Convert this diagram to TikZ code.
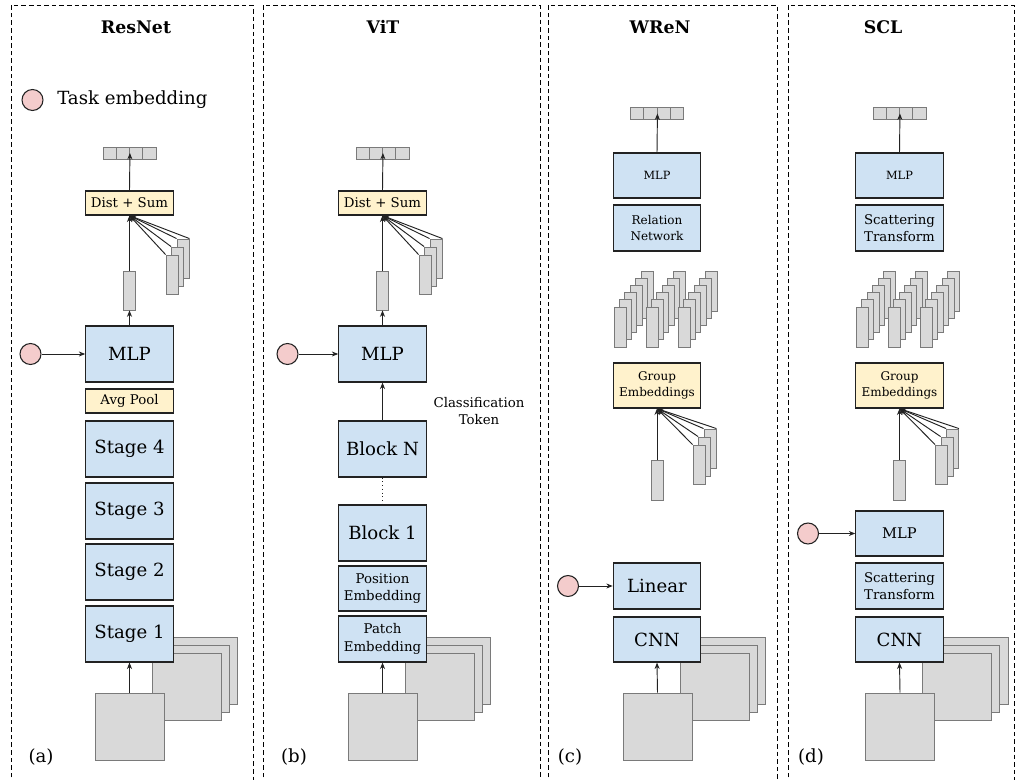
\documentclass[tikz,border=0pt]{standalone}
\usepackage{fontspec}
\setmainfont{DejaVu Serif}
\usetikzlibrary{arrows.meta}
\definecolor{blueF}{HTML}{CFE2F3}
\definecolor{yelF}{HTML}{FFF2CC}
\definecolor{grayF}{HTML}{D9D9D9}
\definecolor{grayD}{HTML}{7A7A7A}
\definecolor{pinkF}{HTML}{F4CCCC}
\definecolor{lineC}{HTML}{222222}
\newcommand{\outvec}[3]{%
  \node[cell] (#1a) at (#2-19.875,#3) {};
  \node[cell] (#1b) at (#2-6.625,#3) {};
  \node[cell] (#1c) at (#2+6.625,#3) {};
  \node[cell] (#1d) at (#2+19.875,#3) {};}
\newcommand{\stackthree}[3]{%
  \node[vecs] (#1c) at (#2+11,#3-16) {};
  \node[vecs] (#1b) at (#2+5.5,#3-8) {};
  \node[vecs] (#1a) at (#2,#3) {};}
\newcommand{\bigstack}[3]{%
  \foreach \k in {5,4,3,2,1,0}{\foreach \g in {0,1,2}{%
    \node[vecs, minimum height=30pt] (#1-\g-\k) at ({#2+32*\g+5.4*\k},{#3-7.2*\k}) {};}}}
\newcommand{\inputs}[3]{%
  \node[img] (#1c) at (#2+73.5,#3-55.5) {};
  \node[img] (#1b) at (#2+65,#3-47.5) {};
  \node[img] (#1a) at (#2+57,#3-40) {};
  \node[img] (#1f) at (#2,#3) {};}
\begin{document}
\begin{tikzpicture}[x=0.75pt,y=-0.75pt,
  box/.style={draw=lineC, line width=0.9pt, inner sep=0pt, minimum width=65.5pt, align=center},
  bluebox/.style={box, fill=blueF},
  yelbox/.style={box, fill=yelF},
  vecs/.style={draw=grayD, fill=grayF, line width=0.65pt, minimum width=9pt, minimum height=29.25pt, inner sep=0pt},
  img/.style={draw=grayD, fill=grayF, line width=0.75pt, minimum width=51.75pt, minimum height=50.25pt, inner sep=0pt},
  cell/.style={draw=grayD, fill=grayF, line width=0.65pt, minimum width=9.94pt, minimum height=9pt, inner sep=0pt},
  task/.style={circle, draw=lineC, fill=pinkF, line width=0.8pt, minimum size=15.75pt, inner sep=0pt},
  arr/.style={-{Stealth[length=4.8pt,width=3.8pt]}, line width=0.7pt, draw=lineC},
  panel/.style={line width=0.7pt, dash pattern=on 3.5pt off 2.2pt},
  title/.style={font=\bfseries\fontsize{13}{15}\selectfont},
  big/.style={font=\fontsize{13.6}{16}\selectfont},
  mlpm/.style={font=\fontsize{11}{13}\selectfont},
  mid/.style={font=\fontsize{10}{13}\selectfont},
  small/.style={font=\fontsize{9}{11.5}\selectfont},
  tiny/.style={font=\fontsize{8.5}{11}\selectfont},
  lab/.style={font=\fontsize{13.6}{16}\selectfont}]
\useasboundingbox (0,0) rectangle (1020,780);
\fill[white] (0,0) rectangle (1020,780);
% panels
\draw[panel] (11,785) -- (11,5) -- (253,5) -- (253,785);
\draw[panel] (263,785) -- (263,5) -- (540,5) -- (540,785);
\draw[panel] (548,785) -- (548,5) -- (777,5) -- (777,785);
\draw[panel] (788,785) -- (788,5) -- (1014,5) -- (1014,785);

% ---------------- Panel (a) ResNet
\node[title] (t1) at (136,27) {ResNet};
\node[task] (leg) at (32.5,100) {};
\node[big, anchor=west, inner sep=0pt] (legt) at (57,100) {Task embedding};
\outvec{o1}{129.5}{153}
\node[yelbox, mid, minimum height=18pt] (ds1) at (129.5,203) {Dist + Sum};
\node[vecs] (sv1) at (129.5,290.5) {};
\stackthree{p1}{172}{274.5}
\node[bluebox, big, minimum height=42pt] (mlp1) at (129.5,354) {MLP};
\node[task] (c1) at (30.5,354) {};
\node[yelbox, mid, minimum height=18pt] (ap1) at (129.5,401) {Avg Pool};
\node[bluebox, big, minimum height=42pt] (st4) at (129.5,449) {Stage 4};
\node[bluebox, big, minimum height=42pt] (st3) at (129.5,511) {Stage 3};
\node[bluebox, big, minimum height=42pt] (st2) at (129.5,572) {Stage 2};
\inputs{i1}{129.5}{726.5}
\node[bluebox, big, minimum height=42pt] (st1) at (129.5,634) {Stage 1};
\draw[arr] (i1f.north) -- (st1.south);
\draw[arr] (c1.east) -- (mlp1.west);
\draw[arr] (mlp1.north) -- (sv1.south);
\draw[arr] (sv1.north) -- (ds1.south);
\draw[arr] (p1a.north west) -- (ds1.south);
\draw[arr] (p1b.north west) -- (ds1.south);
\draw[arr] (p1c.north west) -- (ds1.south);
\draw[arr] (p1c.north east) -- (ds1.south);
\draw[arr] (ds1.north) -- (o1b.east);
\node[lab] (la) at (41,757) {(a)};

% ---------------- Panel (b) ViT
\node[title] (t2) at (383,27) {ViT};
\outvec{o2}{382.5}{153}
\node[yelbox, mid, minimum height=18pt] (ds2) at (382.5,203) {Dist + Sum};
\node[vecs] (sv2) at (382.5,290.5) {};
\stackthree{p2}{425}{274.5}
\node[bluebox, big, minimum height=42pt] (mlp2) at (382.5,354) {MLP};
\node[task] (c2) at (287.5,354) {};
\node[mid, align=center] (ct) at (479,411) {Classification\\Token};
\node[bluebox, big, minimum height=42pt] (bn) at (382.5,449) {Block N};
\node[bluebox, big, minimum height=42pt] (b1) at (382.5,533) {Block 1};
\node[bluebox, mid, minimum height=33.75pt] (pos) at (382.5,588.5) {Position\\Embedding};
\inputs{i2}{382.5}{726.5}
\node[bluebox, mid, minimum height=34.5pt] (pat) at (382.5,639) {Patch\\Embedding};
\draw[arr] (i2f.north) -- (pat.south);
\draw[dotted, line width=0.8pt, lineC] (bn.south) -- (b1.north);
\draw[arr] (bn.north) -- (mlp2.south);
\draw[arr] (c2.east) -- (mlp2.west);
\draw[arr] (mlp2.north) -- (sv2.south);
\draw[arr] (sv2.north) -- (ds2.south);
\draw[arr] (p2a.north west) -- (ds2.south);
\draw[arr] (p2b.north west) -- (ds2.south);
\draw[arr] (p2c.north west) -- (ds2.south);
\draw[arr] (p2c.north east) -- (ds2.south);
\draw[arr] (ds2.north) -- (o2b.east);
\node[lab] (lb) at (294,757) {(b)};

% ---------------- Panel (c) WReN
\node[title] (t3) at (660,27) {WReN};
\outvec{o3}{657}{113.5}
\node[bluebox, tiny, minimum height=33.75pt] (mlp3) at (657,175.5) {MLP};
\node[bluebox, small, minimum height=34.5pt] (rn) at (657,228) {Relation\\Network};
\bigstack{g3}{620}{327}
\node[yelbox, small, minimum height=33.75pt] (ge3) at (657,385.5) {Group\\Embeddings};
\node[vecs, minimum height=30pt] (sv3) at (657,480.5) {};
\stackthree{p3}{699}{464.5}
\node[bluebox, big, minimum height=34.5pt] (lin) at (657,586) {Linear};
\node[task] (c3) at (568,586) {};
\inputs{i3}{657.5}{726.5}
\node[bluebox, big, minimum height=33.75pt] (cnn3) at (657,639.5) {CNN};
\draw[arr] (i3f.north) -- (cnn3.south);
\draw[arr] (c3.east) -- (lin.west);
\draw[arr] (sv3.north) -- (ge3.south);
\draw[arr] (p3a.north west) -- (ge3.south);
\draw[arr] (p3b.north west) -- (ge3.south);
\draw[arr] (p3c.north west) -- (ge3.south);
\draw[arr] (p3c.north east) -- (ge3.south);
\draw[arr] (mlp3.north) -- (o3b.east);
\node[lab] (lc) at (570,757) {(c)};

% ---------------- Panel (d) SCL
\node[title] (t4) at (883,27) {SCL};
\outvec{o4}{899.5}{113.5}
\node[bluebox, tiny, minimum height=33.75pt] (mlp4a) at (899.5,175.5) {MLP};
\node[bluebox, mid, minimum height=34.5pt] (sc4a) at (899.5,228) {Scattering\\Transform};
\bigstack{g4}{862.5}{327}
\node[yelbox, small, minimum height=33.75pt] (ge4) at (899.5,385.5) {Group\\Embeddings};
\node[vecs, minimum height=30pt] (sv4) at (899.5,480.5) {};
\stackthree{p4}{941.5}{464.5}
\node[bluebox, mlpm, minimum height=33.75pt] (mlp4b) at (899.5,533.5) {MLP};
\node[task] (c4) at (808,533.5) {};
\node[bluebox, mid, minimum height=34.5pt] (sc4b) at (899.5,586) {Scattering\\Transform};
\inputs{i4}{900}{726.5}
\node[bluebox, big, minimum height=33.75pt] (cnn4) at (899.5,639.5) {CNN};
\draw[arr] (i4f.north) -- (cnn4.south);
\draw[arr] (c4.east) -- (mlp4b.west);
\draw[arr] (sv4.north) -- (ge4.south);
\draw[arr] (p4a.north west) -- (ge4.south);
\draw[arr] (p4b.north west) -- (ge4.south);
\draw[arr] (p4c.north west) -- (ge4.south);
\draw[arr] (p4c.north east) -- (ge4.south);
\draw[arr] (mlp4a.north) -- (o4b.east);
\node[lab] (ld) at (811,757) {(d)};
\end{tikzpicture}
\end{document}
